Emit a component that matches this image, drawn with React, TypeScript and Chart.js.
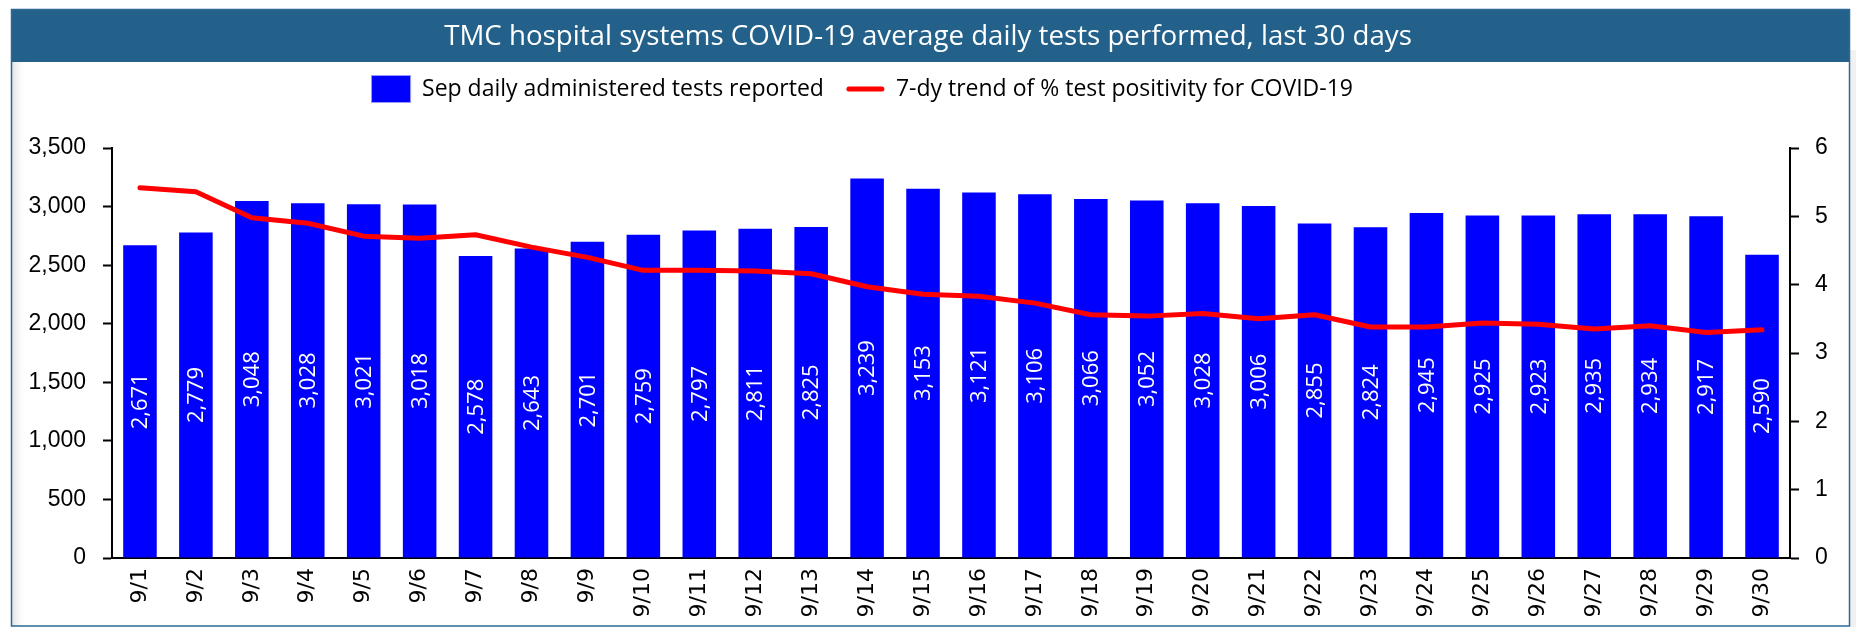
import React, { useEffect, useRef } from 'react';
import { Chart, registerables } from 'chart.js';

Chart.register(...registerables);

const chartTitle = 'TMC hospital systems COVID-19 average daily tests performed, last 30 days';
const barSeriesLabel = 'Sep daily administered tests reported';
const lineSeriesLabel = '7-dy trend of % test positivity for COVID-19';

const categories = [
  '9/1', '9/2', '9/3', '9/4', '9/5', '9/6', '9/7', '9/8', '9/9', '9/10',
  '9/11', '9/12', '9/13', '9/14', '9/15', '9/16', '9/17', '9/18', '9/19', '9/20',
  '9/21', '9/22', '9/23', '9/24', '9/25', '9/26', '9/27', '9/28', '9/29', '9/30',
];

const testsReported = [
  2671, 2779, 3048, 3028, 3021, 3018, 2578, 2643, 2701, 2759,
  2797, 2811, 2825, 3239, 3153, 3121, 3106, 3066, 3052, 3028,
  3006, 2855, 2824, 2945, 2925, 2923, 2935, 2934, 2917, 2590,
];

const positivityTrend = [
  5.42, 5.36, 4.98, 4.90, 4.71, 4.68, 4.73, 4.55, 4.40, 4.21,
  4.21, 4.20, 4.16, 3.97, 3.86, 3.83, 3.73, 3.56, 3.54, 3.58,
  3.50, 3.56, 3.38, 3.38, 3.44, 3.42, 3.35, 3.40, 3.30, 3.34,
];

const leftAxisMax = 3500;
const leftAxisStep = 500;
const rightAxisMax = 6;
const rightAxisStep = 1;

const framePlugin = {
  id: 'frame',
  beforeDraw(chart: any) {
    const { ctx, width, height } = chart;
    ctx.save();
    ctx.fillStyle = '#ffffff';
    ctx.fillRect(0, 0, width, height);
    ctx.fillStyle = '#f1f1f1';
    ctx.fillRect(1850, 50, width - 1850, height - 50);
    const g = ctx.createLinearGradient(12, 0, 27, 0);
    g.addColorStop(0, '#e2e2e2');
    g.addColorStop(1, 'rgba(255,255,255,0)');
    ctx.fillStyle = g;
    ctx.fillRect(12, 62, 15, 564);
    ctx.fillStyle = '#23618A';
    ctx.fillRect(11, 9, 1839, 53);
    ctx.strokeStyle = '#2C6994';
    ctx.lineWidth = 1.5;
    ctx.strokeRect(11.5, 9.5, 1838, 616.5);
    ctx.restore();
  },
};

const barLabelPlugin = {
  id: 'barLabels',
  afterDatasetDraw(chart: any, args: any) {
    if (args.index !== 0) return;
    const ctx = chart.ctx;
    const data = chart.data.datasets[0].data as number[];
    ctx.save();
    ctx.fillStyle = '#ffffff';
    ctx.font = '22px "Open Sans"';
    ctx.textAlign = 'center';
    ctx.textBaseline = 'middle';
    args.meta.data.forEach((bar: any, i: number) => {
      const { x, y, base } = bar.getProps(['x', 'y', 'base'], true);
      ctx.save();
      ctx.translate(x + 1, (y + base) / 2);
      ctx.rotate(-Math.PI / 2);
      ctx.fillText(data[i].toLocaleString('en-US'), 0, 0);
      ctx.restore();
    });
    ctx.restore();
  },
};

const legendPlugin = {
  id: 'customLegend',
  afterDraw(chart: any, _args: any, opts: any) {
    const ctx = chart.ctx;
    const ds = chart.data.datasets;
    ctx.save();
    ctx.font = '23px "Open Sans"';
    const t0 = ds[0].label as string;
    const t1 = ds[1].label as string;
    const w0 = ctx.measureText(t0).width;
    const w1 = ctx.measureText(t1).width;
    const boxW = 40, boxH = 28, gap1 = 11, itemGap = 23, lineW = 37, gap2 = 12;
    const total = boxW + gap1 + w0 + itemGap + lineW + gap2 + w1;
    let x = opts.centerX - total / 2;
    const y = opts.centerY;
    ctx.fillStyle = ds[0].backgroundColor;
    ctx.fillRect(x, y - boxH / 2, boxW, boxH);
    ctx.strokeStyle = '#9a9aff';
    ctx.lineWidth = 1;
    ctx.strokeRect(x + 0.5, y - boxH / 2 + 0.5, boxW - 1, boxH - 1);
    x += boxW + gap1;
    ctx.fillStyle = '#000000';
    ctx.textAlign = 'left';
    ctx.textBaseline = 'middle';
    ctx.fillText(t0, x, y);
    x += w0 + itemGap;
    ctx.strokeStyle = ds[1].borderColor;
    ctx.lineWidth = 5;
    ctx.lineCap = 'round';
    ctx.beginPath();
    ctx.moveTo(x + 2, y);
    ctx.lineTo(x + lineW - 2, y);
    ctx.stroke();
    x += lineW + gap2;
    ctx.fillText(t1, x, y);
    ctx.restore();
  },
};

export default function App() {
  const canvasRef = useRef<HTMLCanvasElement | null>(null);

  useEffect(() => {
    document.body.style.margin = '0';
    const canvas = canvasRef.current;
    if (!canvas) return;
    const chart = new Chart(canvas, {
      type: 'bar',
      data: {
        labels: categories,
        datasets: [
          {
            type: 'bar',
            label: barSeriesLabel,
            data: testsReported,
            backgroundColor: '#0000FF',
            borderWidth: 0,
            barPercentage: 0.6,
            categoryPercentage: 1,
            yAxisID: 'y',
            order: 1,
          },
          {
            type: 'line',
            label: lineSeriesLabel,
            data: positivityTrend,
            borderColor: '#FF0000',
            backgroundColor: '#FF0000',
            borderWidth: 5,
            pointRadius: 0,
            tension: 0,
            borderCapStyle: 'round',
            borderJoinStyle: 'round',
            yAxisID: 'y1',
            order: 0,
          },
        ] as any,
      },
      options: {
        responsive: false,
        animation: false,
        devicePixelRatio: 1,
        layout: { padding: { top: 9, left: 0, right: 0, bottom: 0 } },
        plugins: {
          legend: { display: false },
          tooltip: { enabled: false },
          title: {
            display: true,
            text: chartTitle,
            color: '#ffffff',
            font: { family: '"Open Sans"', size: 27.7, weight: 'normal', lineHeight: 1.2 },
            padding: { top: 11.4, bottom: 94.4 },
          },
          customLegend: { centerX: 862, centerY: 89 },
        } as any,
        scales: {
          x: {
            type: 'category',
            grid: { display: false, drawTicks: false },
            border: { display: true, color: '#000000', width: 2 },
            ticks: {
              autoSkip: false,
              minRotation: 90,
              maxRotation: 90,
              padding: 10,
              color: '#000000',
              font: { family: '"DejaVu Sans"', size: 22 },
            },
            afterFit(scale: any) {
              scale.height = 69;
            },
          },
          y: {
            type: 'linear',
            position: 'left',
            min: 0,
            max: leftAxisMax,
            grid: {
              display: true,
              drawOnChartArea: false,
              drawTicks: true,
              tickLength: 9,
              tickColor: '#000000',
              tickWidth: 2,
            },
            border: { display: true, color: '#000000', width: 2 },
            ticks: {
              stepSize: leftAxisStep,
              padding: 17,
              color: '#000000',
              font: { family: '"Liberation Sans"', size: 23 },
              callback: (v: any) => Number(v).toLocaleString('en-US'),
            },
            afterFit(scale: any) {
              scale.width = 112;
            },
          },
          y1: {
            type: 'linear',
            position: 'right',
            min: 0,
            max: rightAxisMax,
            grid: {
              display: true,
              drawOnChartArea: false,
              drawTicks: true,
              tickLength: 9,
              tickColor: '#000000',
              tickWidth: 2,
            },
            border: { display: true, color: '#000000', width: 2 },
            ticks: {
              stepSize: rightAxisStep,
              padding: 16,
              color: '#000000',
              font: { family: '"Liberation Sans"', size: 23 },
            },
            afterFit(scale: any) {
              scale.width = 66;
            },
          },
        } as any,
      },
      plugins: [framePlugin, barLabelPlugin, legendPlugin],
    });
    return () => chart.destroy();
  }, []);

  return (
    <div style={{ position: 'fixed', left: 0, top: 0, width: 1856, height: 627 }}>
      <canvas ref={canvasRef} width={1856} height={627} style={{ display: 'block', width: 1856, height: 627 }} />
    </div>
  );
}
